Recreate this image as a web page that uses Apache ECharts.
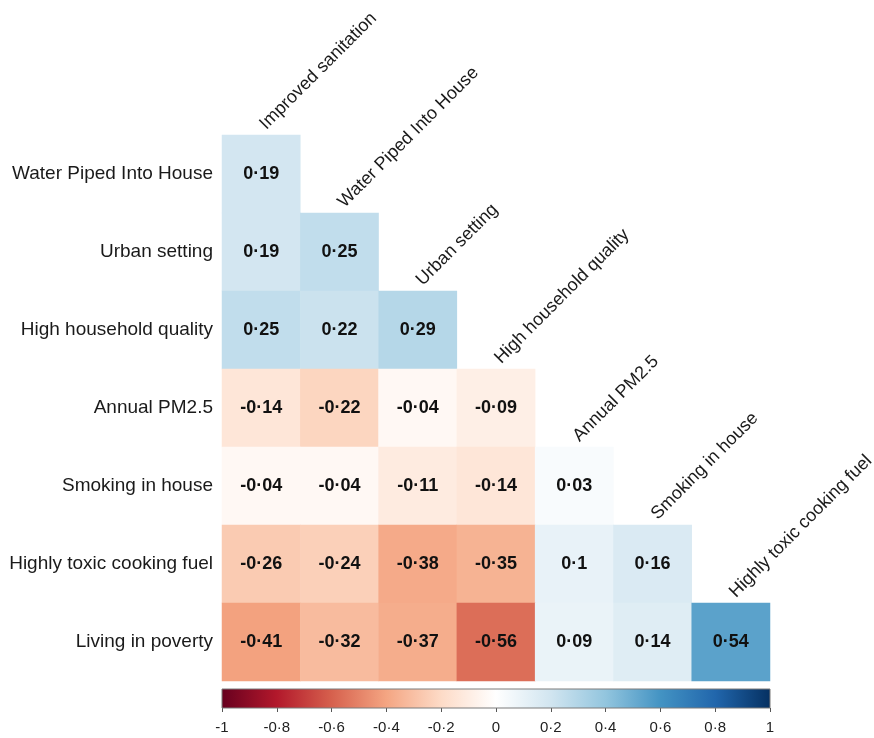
<!DOCTYPE html>
<html>
<head>
<meta charset="utf-8">
<script src="https://cdn.jsdelivr.net/npm/echarts@6/dist/echarts.min.js"></script>
<style>
  html, body { margin: 0; padding: 0; background: #fff; }
  #chart { width: 874px; height: 738px; }
</style>
</head>
<body>
<div id="chart"></div>
<script>
// Variables shown along the columns (top, diagonal) and rows (left)
const columns = [
  'Improved sanitation',
  'Water Piped Into House',
  'Urban setting',
  'High household quality',
  'Annual PM2.5',
  'Smoking in house',
  'Highly toxic cooking fuel'
];
const rows = [
  'Water Piped Into House',
  'Urban setting',
  'High household quality',
  'Annual PM2.5',
  'Smoking in house',
  'Highly toxic cooking fuel',
  'Living in poverty'
];

// Lower-triangle correlation coefficients, one array per row
const rWaterPiped   = [0.19];
const rUrban        = [0.19, 0.25];
const rHouseQuality = [0.25, 0.22, 0.29];
const rPM25         = [-0.14, -0.22, -0.04, -0.09];
const rSmoking      = [-0.04, -0.04, -0.11, -0.14, 0.03];
const rToxicFuel    = [-0.26, -0.24, -0.38, -0.35, 0.1, 0.16];
const rPoverty      = [-0.41, -0.32, -0.37, -0.56, 0.09, 0.14, 0.54];
const rowValues = [rWaterPiped, rUrban, rHouseQuality, rPM25, rSmoking, rToxicFuel, rPoverty];

// Colour scale range and tick step
const scaleMin = -1;
const scaleMax = 1;
const scaleStep = 0.2;

// RdBu diverging palette, low (-1) to high (+1)
const palette = ['#67001F', '#B2182B', '#D6604D', '#F4A582', '#FDDBC7', '#FFFFFF',
                 '#D1E5F0', '#92C5DE', '#4393C3', '#2166AC', '#053061'];

const fmt = v => String(v).replace('.', '\u00B7');

const cells = [];
rowValues.forEach((vals, r) => {
  vals.forEach((v, c) => cells.push([c, r, v]));
});
const diagonal = columns.map((name, j) => [j, j, name]);

const FONT = 'Liberation Sans, Arial, sans-serif';

const chart = echarts.init(document.getElementById('chart'), null, { renderer: 'canvas' });
chart.setOption({
  backgroundColor: '#ffffff',
  animation: false,
  grid: [
    { left: 222, top: 135, width: 548, height: 546 },
    { left: 222, top: 689, width: 548, height: 19, show: false }
  ],
  xAxis: [
    { type: 'category', gridIndex: 0, data: columns,
      axisLine: { show: false }, axisTick: { show: false },
      axisLabel: { show: false }, splitLine: { show: false } },
    { type: 'value', gridIndex: 1, min: scaleMin, max: scaleMax,
      interval: scaleStep, position: 'bottom',
      axisLine: { show: false },
      axisTick: { show: true, length: 4, lineStyle: { color: '#555' } },
      splitLine: { show: false },
      axisLabel: { margin: 12, fontFamily: FONT, fontSize: 15, color: '#222',
        formatter: v => fmt(Math.round(v * 10) / 10) } }
  ],
  yAxis: [
    { type: 'category', gridIndex: 0, data: rows, inverse: true,
      axisLine: { show: false }, axisTick: { show: false }, splitLine: { show: false },
      axisLabel: { margin: 9, fontFamily: FONT, fontSize: 19, color: '#1a1a1a' } },
    { type: 'value', gridIndex: 1, show: false, min: 0, max: 1 }
  ],
  visualMap: {
    type: 'continuous',
    show: false,
    seriesIndex: 0,
    min: scaleMin, max: scaleMax,
    inRange: { color: palette }
  },
  series: [
    {
      type: 'heatmap',
      xAxisIndex: 0, yAxisIndex: 0,
      data: cells,
      itemStyle: { borderWidth: 0 },
      label: {
        show: true, fontFamily: FONT, fontSize: 18, fontWeight: 'bold', color: '#111',
        formatter: p => fmt(p.value[2])
      },
      emphasis: { disabled: true }
    },
    {
      type: 'custom',
      xAxisIndex: 0, yAxisIndex: 0,
      clip: false,
      silent: true,
      data: diagonal,
      renderItem: (params, api) => {
        const p = api.coord([api.value(0), api.value(1)]);
        const s = api.size([1, 1]);
        const top = p[1] - s[1] / 2;
        return {
          type: 'text',
          x: p[0] + 8,
          y: top - 2,
          rotation: Math.PI / 4,
          style: {
            text: columns[params.dataIndex],
            fontFamily: FONT, fontSize: 18, fill: '#1a1a1a',
            align: 'left', verticalAlign: 'bottom'
          }
        };
      }
    }
  ]
});

// Colour bar: gradient rectangle spanning the scale axis of the second grid
const x0 = chart.convertToPixel({ xAxisIndex: 1 }, scaleMin);
const x1 = chart.convertToPixel({ xAxisIndex: 1 }, scaleMax);
const yTop = chart.convertToPixel({ yAxisIndex: 1 }, 1);
const yBot = chart.convertToPixel({ yAxisIndex: 1 }, 0);
chart.setOption({
  graphic: [{
    type: 'rect',
    silent: true,
    z: 10,
    shape: { x: x0, y: yTop, width: x1 - x0, height: yBot - yTop },
    style: {
      fill: new echarts.graphic.LinearGradient(0, 0, 1, 0,
        palette.map((c, i) => ({ offset: i / (palette.length - 1), color: c }))),
      stroke: '#7a7a7a',
      lineWidth: 1
    }
  }]
});
</script>
</body>
</html>
